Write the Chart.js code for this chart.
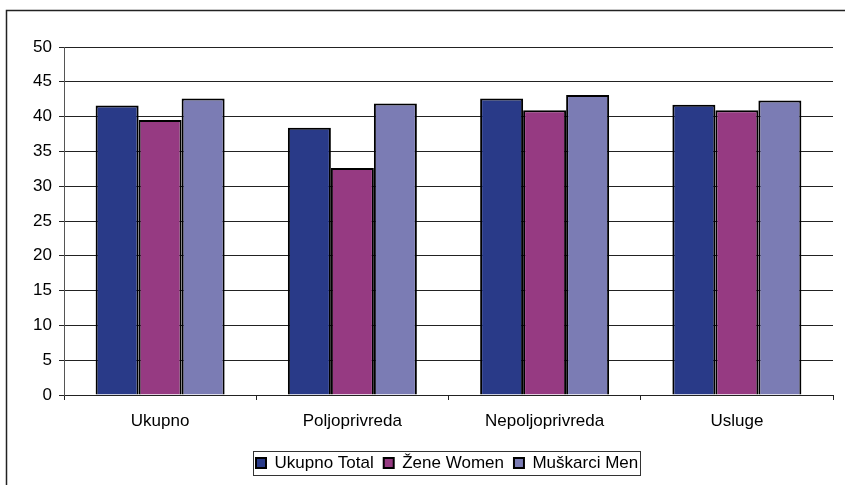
<!DOCTYPE html>
<html>
<head>
<meta charset="utf-8">
<script src="https://cdn.jsdelivr.net/npm/chart.js@4/dist/chart.umd.min.js"></script>
<style>
  html, body { margin: 0; padding: 0; background: #fff; }
  #wrap { width: 845px; height: 485px; }
</style>
</head>
<body>
<div id="wrap"><canvas id="c" width="845" height="485"></canvas></div>
<script>
const categories = ['Ukupno', 'Poljoprivreda', 'Nepoljoprivreda', 'Usluge'];
const seriesNames = ['Ukupno Total', 'Žene Women', 'Muškarci Men'];
const totalValues = [41.6, 38.4, 42.6, 41.7];
const womenValues = [39.5, 32.6, 40.9, 40.9];
const menValues = [42.6, 41.9, 43.1, 42.3];
const yMin = 0, yMax = 50, yStep = 5;

const FONT = 'Liberation Sans, Arial, sans-serif';

const framePlugin = {
  id: 'framePlugin',
  afterInit(chart) {
    const lg = chart.legend;
    if (lg && !lg._patched) {
      const origFit = lg.fit.bind(lg);
      lg.fit = function () { origFit(); this.height = 50; };
      lg._patched = true;
    }
  },
  afterLayout(chart) {
    const lg = chart.legend;
    if (lg) {
      lg.top = 444.5;
      lg.left = 246;
    }
  },
  afterDraw(chart) {
    const ctx = chart.ctx;
    ctx.save();
    // outer frame
    ctx.strokeStyle = '#222';
    ctx.lineWidth = 1.5;
    ctx.beginPath();
    ctx.moveTo(6.5, 490);
    ctx.lineTo(6.5, 10.5);
    ctx.lineTo(850, 10.5);
    ctx.stroke();
    // legend frame
    const hb = chart.legend && chart.legend.legendHitBoxes;
    if (hb && hb.length) {
      const first = hb[0], last = hb[hb.length - 1];
      const l = Math.round(first.left) - 2.5;
      const r = Math.round(last.left + last.width) + 2.5;
      ctx.strokeStyle = '#333';
      ctx.lineWidth = 1;
      ctx.strokeRect(l, 451.5, r - l, 24);
    }
    ctx.restore();
  }
};

const mkDs = (label, data, color) => ({
  label, data,
  backgroundColor: color,
  borderColor: '#000',
  borderWidth: 2,
  categoryPercentage: 0.671,
  barPercentage: 1.0
});

new Chart(document.getElementById('c'), {
  type: 'bar',
  data: {
    labels: categories,
    datasets: [
      mkDs(seriesNames[0], totalValues, '#293A88'),
      mkDs(seriesNames[1], womenValues, '#963A82'),
      mkDs(seriesNames[2], menValues, '#7B7CB4')
    ]
  },
  options: {
    responsive: false,
    animation: false,
    devicePixelRatio: 1,
    layout: { padding: { left: 10, right: 12, top: 47, bottom: 0 } },
    plugins: {
      title: { display: false },
      tooltip: { enabled: false },
      legend: {
        display: true,
        position: 'bottom',
        align: 'start',
        labels: {
          boxWidth: 10,
          boxHeight: 10,
          padding: 10,
          color: '#000',
          font: { family: FONT, size: 17 }
        }
      }
    },
    scales: {
      x: {
        offset: true,
        afterFit(scale) { scale.height = 40; },
        grid: {
          offset: true,
          drawOnChartArea: false,
          drawTicks: true,
          tickLength: 5,
          color: '#222',
          lineWidth: 1
        },
        border: { display: true, color: '#222', width: 1 },
        ticks: {
          color: '#000',
          padding: 11,
          maxRotation: 0,
          font: { family: FONT, size: 17 }
        }
      },
      y: {
        min: yMin,
        max: yMax,
        afterFit(scale) { scale.width = 54; },
        grid: {
          color: '#222',
          lineWidth: 1,
          drawTicks: true,
          tickLength: 5
        },
        border: { display: true, color: '#555', width: 1 },
        ticks: {
          stepSize: yStep,
          color: '#000',
          padding: 7,
          font: { family: FONT, size: 17 }
        }
      }
    }
  },
  plugins: [framePlugin]
});
</script>
</body>
</html>
